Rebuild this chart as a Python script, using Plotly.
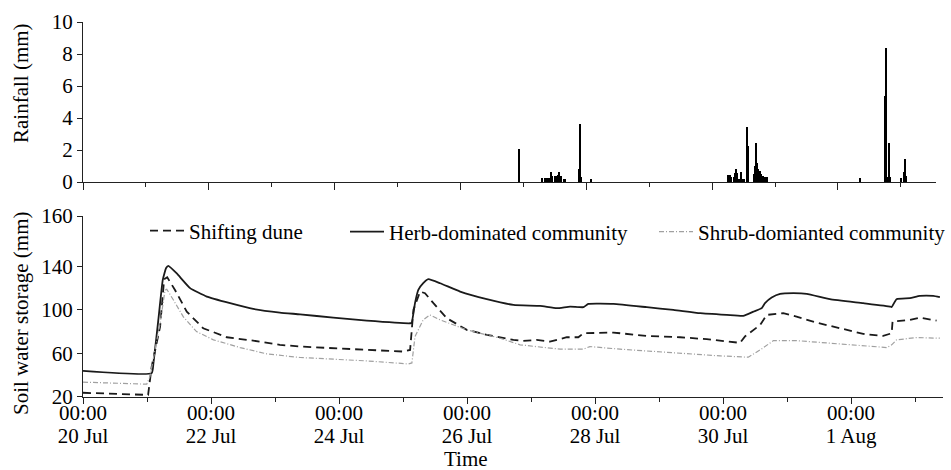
import plotly.graph_objects as go

# ---------------- data ----------------
rain_time = [
    "2009-07-26 22:25",
    "2009-07-27 07:15", "2009-07-27 08:05", "2009-07-27 09:00", "2009-07-27 09:50",
    "2009-07-27 10:30", "2009-07-27 11:00", "2009-07-27 12:00", "2009-07-27 12:30",
    "2009-07-27 13:05", "2009-07-27 13:40", "2009-07-27 14:10", "2009-07-27 15:20",
    "2009-07-27 15:45", "2009-07-27 21:10", "2009-07-27 21:30", "2009-07-27 22:00",
    "2009-07-28 01:45",
    "2009-07-30 06:05", "2009-07-30 06:40", "2009-07-30 07:15", "2009-07-30 08:15",
    "2009-07-30 08:50", "2009-07-30 09:10", "2009-07-30 09:35", "2009-07-30 10:20",
    "2009-07-30 11:05", "2009-07-30 11:40", "2009-07-30 12:15", "2009-07-30 13:15",
    "2009-07-30 13:40", "2009-07-30 16:05", "2009-07-30 16:30", "2009-07-30 16:45",
    "2009-07-30 17:05", "2009-07-30 17:35", "2009-07-30 18:10", "2009-07-30 18:45",
    "2009-07-30 19:30", "2009-07-30 20:15", "2009-07-30 20:50",
    "2009-08-01 08:35", "2009-08-01 17:50", "2009-08-01 18:10", "2009-08-01 18:25",
    "2009-08-01 18:50", "2009-08-01 19:35", "2009-08-01 20:00",
    "2009-08-02 00:10", "2009-08-02 01:05", "2009-08-02 01:25", "2009-08-02 01:55",
]
rain_mm = [
    2.05,
    0.25, 0.25, 0.25, 0.25,
    0.65, 0.35, 0.4, 0.4,
    0.45, 0.65, 0.35, 0.2,
    0.2, 0.82, 3.65, 0.3,
    0.2,
    0.44, 0.44, 0.3, 0.3,
    0.55, 0.8, 0.55, 0.2,
    0.63, 0.2, 0.2, 3.46,
    2.26, 0.5, 1.0, 2.43,
    1.2, 0.8, 0.7, 0.5,
    0.4, 0.3, 0.3,
    0.23, 5.4, 8.4, 0.65,
    0.3, 2.43, 0.3,
    0.25, 0.6, 1.43, 0.4,
]

herb_time = [
    "2009-07-20 00:00", "2009-07-21 01:45", "2009-07-21 02:25", "2009-07-21 04:15",
    "2009-07-21 05:55", "2009-07-21 07:10", "2009-07-21 08:00", "2009-07-21 11:10",
    "2009-07-21 16:10", "2009-07-21 22:25", "2009-07-22 07:10", "2009-07-22 15:50",
    "2009-07-23 01:50", "2009-07-23 09:25", "2009-07-23 21:50", "2009-07-24 10:25",
    "2009-07-25 02:40", "2009-07-25 03:15", "2009-07-25 04:30", "2009-07-25 05:45",
    "2009-07-25 07:35", "2009-07-25 09:30", "2009-07-25 13:55", "2009-07-25 21:25",
    "2009-07-26 07:25", "2009-07-26 17:25", "2009-07-27 03:25", "2009-07-27 09:40",
    "2009-07-27 14:40", "2009-07-27 19:40", "2009-07-27 21:30", "2009-07-28 06:55",
    "2009-07-28 19:25", "2009-07-29 05:25", "2009-07-29 15:25", "2009-07-30 01:25",
    "2009-07-30 07:35", "2009-07-30 11:25", "2009-07-30 14:30", "2009-07-30 15:45",
    "2009-07-30 18:15", "2009-07-30 21:25", "2009-07-31 02:25", "2009-07-31 07:25",
    "2009-07-31 16:05", "2009-08-01 04:35", "2009-08-01 14:40", "2009-08-01 15:15",
    "2009-08-01 17:05", "2009-08-01 22:05", "2009-08-02 01:50", "2009-08-02 06:50",
    "2009-08-02 09:20",
]
herb_mm = [
    43.7, 41.6, 50.8, 90.7,
    127.6, 138.5, 140.5, 133.5,
    120.0, 112.2, 106.1, 100.8,
    97.4, 95.8, 92.8, 90.0,
    87.6, 88.0, 106.1, 118.3,
    124.5, 128.2, 124.5, 116.8,
    109.8, 104.5, 103.6, 101.5,
    103.0, 102.4, 105.4, 105.4,
    102.4, 99.9, 96.9, 95.3,
    94.4, 98.3, 101.5, 106.1,
    111.3, 114.7, 115.3, 114.7,
    109.8, 106.1, 103.0, 102.5,
    109.8, 110.7, 112.8, 112.8,
    111.6,
]

dune_time = [
    "2009-07-20 00:00", "2009-07-20 23:15", "2009-07-21 00:25", "2009-07-21 01:45",
    "2009-07-21 04:55", "2009-07-21 06:25", "2009-07-21 07:35", "2009-07-21 10:30",
    "2009-07-21 14:55", "2009-07-21 21:05", "2009-07-22 05:55", "2009-07-22 15:50",
    "2009-07-23 01:50", "2009-07-23 09:25", "2009-07-24 04:05", "2009-07-25 00:05",
    "2009-07-25 02:40", "2009-07-25 03:55", "2009-07-25 06:25", "2009-07-25 08:15",
    "2009-07-25 11:25", "2009-07-25 16:25", "2009-07-25 23:55", "2009-07-26 07:25",
    "2009-07-26 17:25", "2009-07-26 21:05", "2009-07-27 02:05", "2009-07-27 07:05",
    "2009-07-27 13:25", "2009-07-27 17:45", "2009-07-27 19:40", "2009-07-28 06:55",
    "2009-07-28 19:25", "2009-07-29 07:55", "2009-07-29 17:55", "2009-07-30 06:25",
    "2009-07-30 08:15", "2009-07-30 11:25", "2009-07-30 13:55", "2009-07-30 16:25",
    "2009-07-30 22:35", "2009-07-31 03:35", "2009-07-31 11:05", "2009-07-31 19:55",
    "2009-08-01 04:35", "2009-08-01 12:05", "2009-08-01 15:15", "2009-08-01 15:35",
    "2009-08-01 22:05", "2009-08-02 01:50", "2009-08-02 08:05",
]
dune_mm = [
    23.5, 21.6, 21.5, 47.6,
    84.5, 128.2, 130.0, 118.3,
    98.3, 83.0, 74.7, 71.6,
    67.7, 66.1, 63.7, 61.5,
    63.0, 100.0, 116.8, 115.3,
    106.1, 92.3, 81.5, 76.9,
    72.3, 71.3, 72.3, 70.7,
    74.7, 74.7, 78.4, 79.0,
    75.9, 74.7, 72.9, 69.5,
    75.5, 81.5, 86.0, 95.3,
    96.9, 93.7, 88.2, 83.0,
    77.8, 75.9, 78.4, 89.2,
    90.7, 92.8, 90.0,
]

shrub_time = [
    "2009-07-20 00:00", "2009-07-20 23:55", "2009-07-21 01:05", "2009-07-21 04:55",
    "2009-07-21 06:45", "2009-07-21 07:25", "2009-07-21 09:55", "2009-07-21 13:35",
    "2009-07-21 18:35", "2009-07-22 00:55", "2009-07-22 10:55", "2009-07-22 20:55",
    "2009-07-23 09:25", "2009-07-24 10:25", "2009-07-25 02:00", "2009-07-25 03:20",
    "2009-07-25 04:30", "2009-07-25 07:35", "2009-07-25 10:05", "2009-07-25 13:55",
    "2009-07-25 23:55", "2009-07-26 12:25", "2009-07-26 19:55", "2009-07-27 10:55",
    "2009-07-27 19:40", "2009-07-27 22:05", "2009-07-28 09:25", "2009-07-28 21:55",
    "2009-07-29 10:25", "2009-07-29 22:55", "2009-07-30 09:30", "2009-07-30 13:55",
    "2009-07-30 18:55", "2009-07-31 03:35", "2009-07-31 16:05", "2009-08-01 04:35",
    "2009-08-01 13:25", "2009-08-01 15:15", "2009-08-01 17:05", "2009-08-02 00:35",
    "2009-08-02 09:20",
]
shrub_mm = [
    33.3, 31.4, 38.4, 87.6,
    118.0, 119.0, 109.0, 93.7,
    79.9, 72.3, 65.2, 59.4,
    56.0, 52.9, 50.1, 51.0,
    75.3, 90.7, 95.3, 90.7,
    81.5, 73.8, 67.7, 63.7,
    63.7, 66.1, 63.7, 61.5,
    59.4, 57.5, 56.3, 63.0,
    71.6, 71.6, 69.2, 66.7,
    65.2, 67.7, 72.3, 74.4,
    73.8,
]

series_names = ["Shifting dune", "Herb-dominated community", "Shrub-domianted community"]

rain_ticks = [0, 2, 4, 6, 8, 10]
sws_tickvals = [20, 60, 100, 140, 186.5]
sws_ticktext = ["20", "60", "100", "140", "160"]

x_start = "2009-07-20 00:00"
x_end_bottom = "2009-08-02 10:30"
x_end_top = "2009-08-02 13:25"

# ---------------- figure ----------------
FONT = "Liberation Serif"
FS = 21
AX = "#222222"

W, H = 951, 470
L, R, T, B = 83, 8, 22, 73
PW = W - L - R
PH = H - T - B


def px_x(px):
    return (px - L) / PW


def px_y(py):
    return 1 - (py - T) / PH


fig = go.Figure()

fig.add_trace(go.Bar(
    x=rain_time, y=rain_mm, width=1.4e6,
    marker=dict(color="black", line=dict(width=0)),
    xaxis="x", yaxis="y", showlegend=False,
))

fig.add_trace(go.Scatter(
    x=dune_time, y=dune_mm, mode="lines", name=series_names[0],
    line=dict(color="#1a1a1a", width=1.8, dash="8px,5px"),
    xaxis="x2", yaxis="y2", legend="legend",
))
fig.add_trace(go.Scatter(
    x=herb_time, y=herb_mm, mode="lines", name=series_names[1],
    line=dict(color="#1a1a1a", width=1.8, shape="spline", smoothing=0.4),
    xaxis="x2", yaxis="y2", legend="legend2",
))
fig.add_trace(go.Scatter(
    x=shrub_time, y=shrub_mm, mode="lines", name=series_names[2],
    line=dict(color="#a0a0a0", width=1.2, dash="5px,2px,1px,2px"),
    xaxis="x2", yaxis="y2", legend="legend3",
))
# overlay axis used only for the second tick-label line (dates)
fig.add_trace(go.Scatter(
    x=[x_start, x_end_bottom], y=[None, None], mode="lines",
    xaxis="x3", yaxis="y2", showlegend=False, hoverinfo="skip",
))

common_axis = dict(showgrid=False, zeroline=False, showline=True,
                   linecolor=AX, linewidth=1.2, tickcolor=AX, automargin=False,
                   tickfont=dict(family=FONT, size=FS, color="black"))

fig.update_layout(
    width=W, height=H,
    margin=dict(l=L, r=R, t=T, b=B, autoexpand=False),
    paper_bgcolor="white", plot_bgcolor="white",
    font=dict(family=FONT, size=FS, color="black"),
    bargap=0,
    xaxis=dict(**common_axis, domain=[0, px_x(936)], anchor="y",
               type="date", range=[x_start, x_end_top],
               ticks="outside", ticklen=7, tickwidth=1.2,
               dtick=2 * 86400000, tick0=x_start, showticklabels=False,
               minor=dict(dtick=86400000, tick0=x_start, ticks="outside",
                          ticklen=4, tickwidth=1.2, tickcolor=AX)),
    yaxis=dict(**common_axis, domain=[px_y(182), 1], anchor="x",
               range=[0, 10], tickvals=rain_ticks, ticks="outside",
               ticklen=5, tickwidth=1.2),
    xaxis2=dict(**common_axis, domain=[0, 1], anchor="y2",
                type="date", range=[x_start, x_end_bottom],
                ticks="outside", ticklen=6, tickwidth=1.2,
                dtick=2 * 86400000, tick0=x_start, tickformat="%H:%M",
                ticklabelstandoff=-9,
                minor=dict(dtick=86400000, tick0=x_start, ticks="outside",
                           ticklen=4, tickwidth=1.2, tickcolor=AX)),
    xaxis3=dict(showgrid=False, zeroline=False, showline=False, automargin=False,
                overlaying="x2", anchor="y2", side="bottom",
                type="date", range=[x_start, x_end_bottom],
                ticks="", dtick=2 * 86400000, tick0=x_start,
                tickformat="%-d %b", ticklabelstandoff=24,
                tickfont=dict(family=FONT, size=FS, color="black")),
    yaxis2=dict(**common_axis, domain=[0, px_y(216)], anchor="x2",
                range=[19.6, 186.5], tickvals=sws_tickvals, ticktext=sws_ticktext,
                ticks="outside", ticklen=5, tickwidth=1.2),
)

leg_common = dict(orientation="h", xref="paper", yref="paper",
                  xanchor="left", yanchor="middle", bgcolor="rgba(0,0,0,0)",
                  borderwidth=0, itemwidth=34,
                  font=dict(family=FONT, size=FS, color="black"))
fig.update_layout(
    legend=dict(**leg_common, x=px_x(145), y=px_y(231)),
    legend2=dict(**leg_common, x=px_x(345), y=px_y(232)),
    legend3=dict(**leg_common, x=px_x(654), y=px_y(232)),
)

fig.add_annotation(text="Rainfall (mm)", textangle=-90, showarrow=False,
                   xref="paper", yref="paper", x=px_x(21), y=px_y(83),
                   xanchor="center", yanchor="middle",
                   font=dict(family=FONT, size=FS, color="black"))
fig.add_annotation(text="Soil water storage (mm)", textangle=-90, showarrow=False,
                   xref="paper", yref="paper", x=px_x(21), y=px_y(313),
                   xanchor="center", yanchor="middle",
                   font=dict(family=FONT, size=FS, color="black"))
fig.add_annotation(text="Time", showarrow=False,
                   xref="paper", yref="paper", x=px_x(466), y=px_y(459),
                   xanchor="center", yanchor="middle",
                   font=dict(family=FONT, size=FS, color="black"))

fig.write_html("out.html")
